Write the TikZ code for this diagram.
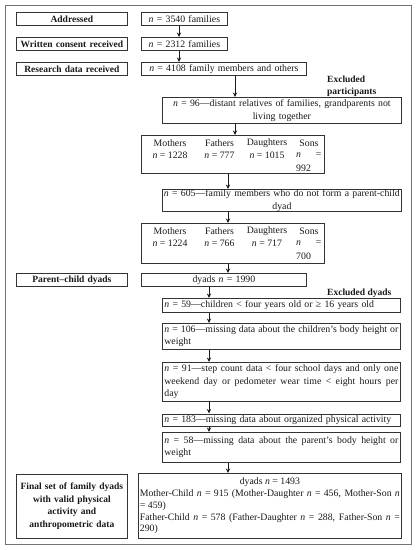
\documentclass[tikz,border=0pt]{standalone}
\usepackage{fontspec}
\setmainfont{Liberation Serif}
\usetikzlibrary{arrows.meta}
\hyphenpenalty=10000
\exhyphenpenalty=10000
\tikzset{
  x=1pt,y=-1pt,
  box/.style={draw=black!80,line width=0.75pt,anchor=north west,inner xsep=2.5pt,inner ysep=0pt,
    font=\fontsize{9.8}{12.5}\selectfont,text=black!90},
  lbl/.style={box,font=\bfseries\fontsize{9.5}{12.5}\selectfont,align=center},
  frame/.style={draw=black!55,line width=0.75pt,anchor=north west,inner sep=0pt},
  txt/.style={inner sep=0pt,font=\fontsize{9.8}{12}\selectfont,text=black!90},
  exl/.style={inner sep=0pt,font=\bfseries\fontsize{9.5}{11.5}\selectfont,align=left,text=black!90},
  arr/.style={draw=black!90,line width=0.8pt,-{Stealth[length=4.5pt,width=4.2pt]}}
}
\newcommand{\nit}{\textit{n}}
\begin{document}
\begin{tikzpicture}
\useasboundingbox (0,0) rectangle (416,550);
\node[frame,minimum width=406pt,minimum height=539pt] (frame) at (5,5) {};

% left labels
\node[lbl,minimum width=111pt,minimum height=13pt,text width=106pt] (addr) at (16,12) {Addressed};
\node[lbl,minimum width=111pt,minimum height=13pt,text width=106pt] (cons) at (16,37) {Written consent received};
\node[lbl,minimum width=111pt,minimum height=13pt,text width=106pt] (resd) at (16,62) {Research data received};
\node[lbl,minimum width=111pt,minimum height=13pt,text width=106pt] (pcd) at (16,273) {Parent–child dyads};
\node[lbl,minimum width=111pt,minimum height=64pt,text width=106pt] (fin) at (16,474) {Final set of family dyads\\with valid physical\\activity and\\anthropometric data};

% right boxes
\node[box,minimum width=86pt,minimum height=13pt,text width=81pt,align=center] (n3540) at (141,12) {\nit{} = 3540 families};
\node[box,minimum width=86pt,minimum height=13pt,text width=81pt,align=center] (n2312) at (141,37) {\nit{} = 2312 families};
\node[box,minimum width=165pt,minimum height=13pt,text width=160pt,align=center] (n4108) at (141,62) {\nit{} = 4108 family members and others};

\node[exl,anchor=north west] (exp) at (327,76) {Excluded\\participants};

\node[box,minimum width=239pt,minimum height=26pt,text width=237pt,inner xsep=1pt,align=center] (n96) at (162,97) {\nit{} = 96—distant relatives of families, grandparents not\\living together};

\node[box,minimum width=183pt,minimum height=38pt] (m1) at (141,135) {};
\node[txt] (m1a) at (170,143) {Mothers};
\node[txt] (m1b) at (219.5,143) {Fathers};
\node[txt] (m1c) at (267,143) {Daughters};
\node[txt] (m1d) at (309,143) {Sons};
\node[txt] (m1e) at (170,155.5) {\nit{} = 1228};
\node[txt] (m1f) at (219.5,155.5) {\nit{} = 777};
\node[txt] (m1g) at (267,155.5) {\nit{} = 1015};
\node[txt,anchor=west] (m1h) at (296,155.5) {\nit};
\node[txt,anchor=east] (m1i) at (321.5,155.5) {=};
\node[txt,anchor=west] (m1j) at (296,168) {992};

\node[box,minimum width=239pt,minimum height=22pt,text width=237pt,inner xsep=1pt,align=center] (n605) at (162,189) {\nit{} = 605—family members who do not form a parent-child\\dyad};

\node[box,minimum width=183pt,minimum height=40pt] (m2) at (141,223) {};
\node[txt] (m2a) at (170,231) {Mothers};
\node[txt] (m2b) at (219.5,231) {Fathers};
\node[txt] (m2c) at (267,231) {Daughters};
\node[txt] (m2d) at (309,231) {Sons};
\node[txt] (m2e) at (170,243.5) {\nit{} = 1224};
\node[txt] (m2f) at (219.5,243.5) {\nit{} = 766};
\node[txt] (m2g) at (267,243.5) {\nit{} = 717};
\node[txt,anchor=west] (m2h) at (296,243.5) {\nit};
\node[txt,anchor=east] (m2i) at (321.5,243.5) {=};
\node[txt,anchor=west] (m2j) at (296,256) {700};

\node[box,minimum width=165pt,minimum height=13pt,text width=160pt,align=center] (dy) at (141,273) {dyads \nit{} = 1990};

\node[exl,anchor=west] (exd) at (327,293) {Excluded dyads};

\node[box,minimum width=238pt,minimum height=14pt,text width=234pt,inner xsep=2pt,align=left] (n59) at (162,298) {\nit{} = 59—children < four years old or ≥ 16 years old};
\node[box,minimum width=238pt,minimum height=26pt,text width=234pt,inner xsep=2pt,align=justify] (n106) at (162,323) {\nit{} = 106—missing data about the children’s body height or\linebreak weight};
\node[box,minimum width=238pt,minimum height=39pt,text width=234pt,inner xsep=2pt,align=justify] (n91) at (162,362) {\nit{} = 91—step count data < four school days and only one\linebreak weekend day or pedometer wear time < eight hours per\linebreak day};
\node[box,minimum width=238pt,minimum height=12pt,text width=234pt,inner xsep=2pt,align=left] (n183) at (162,413.5) {\nit{} = 183—missing data about organized physical activity};
\node[box,minimum width=238pt,minimum height=30pt,text width=234pt,inner xsep=2pt,align=justify] (n58) at (162,432) {\nit{} = 58—missing data about the parent’s body height or\linebreak weight};

\node[box,minimum width=263pt,minimum height=65pt,text width=260pt,inner xsep=1.5pt,align=justify,font=\fontsize{9.8}{11.8}\selectfont] (finr) at (138,473) {\hspace*{\fill}dyads \nit{} = 1493\hspace*{\fill}\break Mother-Child \nit{} = 915 (Mother-Daughter \nit{} = 456, Mother-Son \nit\linebreak = 459)\\Father-Child \nit{} = 578 (Father-Daughter \nit{} = 288, Father-Son \nit{} =\linebreak 290)};

% arrow axes
\coordinate (ax1) at (179,0);
\coordinate (ax2) at (235,0);
\coordinate (ax3) at (228,0);
\coordinate (ax4) at (209,0);

\draw[arr] (n3540.south -| ax1) -- (n2312.north -| ax1);
\draw[arr] (n2312.south -| ax1) -- (n4108.north -| ax1);
\draw[arr] (n4108.south -| ax2) -- (n96.north -| ax2);
\draw[arr] (n96.south -| ax2) -- (m1.north -| ax2);
\draw[arr] (m1.south -| ax3) -- (n605.north -| ax3);
\draw[arr] (n605.south -| ax3) -- (m2.north -| ax3);
\draw[arr] (m2.south -| ax3) -- (dy.north -| ax3);
\draw[arr] (dy.south -| ax4) -- (n59.north -| ax4);
\draw[arr] (n59.south -| ax4) -- (n106.north -| ax4);
\draw[arr] (n106.south -| ax4) -- (n91.north -| ax4);
\draw[arr] (n91.south -| ax4) -- (n183.north -| ax4);
\draw[arr] (n183.south -| ax4) -- (n58.north -| ax4);
\draw[arr] (n58.south -| ax3) -- (finr.north -| ax3);
\end{tikzpicture}
\end{document}
